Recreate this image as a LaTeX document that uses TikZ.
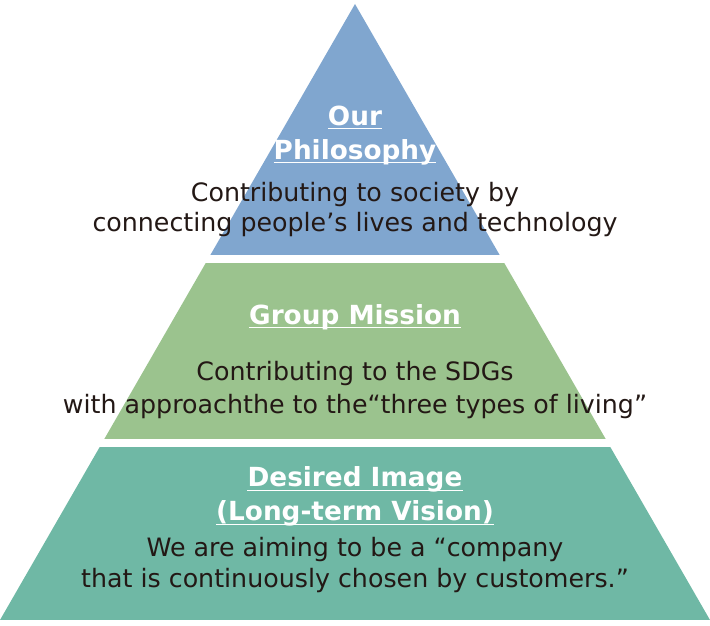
\documentclass[tikz,border=0pt]{standalone}
\usepackage{fontspec}
\setmainfont{DejaVu Sans}
\definecolor{tierblue}{HTML}{80A6CF}
\definecolor{tiergreen}{HTML}{9BC38E}
\definecolor{tierteal}{HTML}{6FB8A5}
\definecolor{inkdark}{HTML}{231815}
\tikzset{
  bodytext/.style={font=\fontsize{25.3}{30}\selectfont, text=inkdark, inner sep=0pt, anchor=base},
  headtext/.style={font=\fontsize{26.3}{30}\selectfont\bfseries, text=white, inner sep=0pt, anchor=base},
  uline/.style={draw=white, line width=1.3pt}
}
\newcommand\headline[3]{%
  \node[headtext] (#1) at (355,#2) {#3};
  \draw[uline] ([yshift=-3.5pt]#1.base west) -- ([yshift=-3.5pt]#1.base east);
}
\begin{document}
\begin{tikzpicture}[x=1pt,y=-1pt]
  \useasboundingbox (0,0) rectangle (710,626);
  % pyramid tiers
  \begin{scope}
    \clip (355,4) -- (710,620) -- (0,620) -- cycle;
    \fill[tierblue] (0,0) rectangle (710,254.5);
    \fill[tiergreen] (0,262.5) rectangle (710,438.5);
    \fill[tierteal] (0,447) rectangle (710,620);
  \end{scope}
  % top tier
  \headline{h1a}{125}{Our}
  \headline{h1b}{159.3}{Philosophy}
  \node[bodytext] (t1a) at (355,201) {Contributing to society by};
  \node[bodytext] (t1b) at (355,231.7) {connecting people’s lives and technology};
  % middle tier
  \headline{h2}{324.3}{Group Mission}
  \node[bodytext] (t2a) at (355,380) {Contributing to the SDGs};
  \node[bodytext] (t2b) at (355,413.3) {with approachthe to the“three types of living”};
  % bottom tier
  \headline{h3a}{486.7}{Desired Image}
  \headline{h3b}{520.7}{(Long-term Vision)}
  \node[bodytext] (t3a) at (355,556.7) {We are aiming to be a “company};
  \node[bodytext] (t3b) at (355,587.5) {that is continuously chosen by customers.”};
\end{tikzpicture}
\end{document}
